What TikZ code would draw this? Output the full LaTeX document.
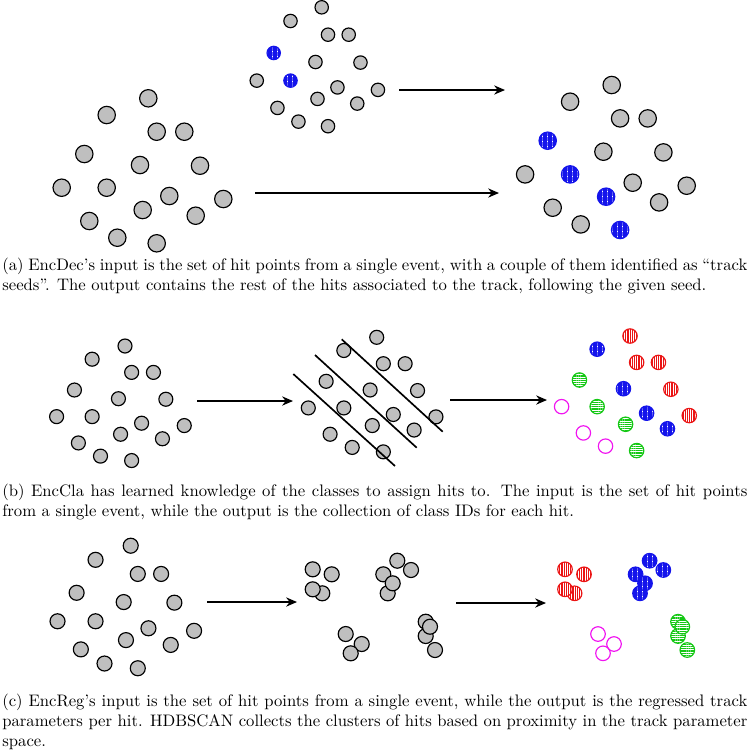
\documentclass[tikz,border=0pt]{standalone}
\usetikzlibrary{arrows.meta, patterns.meta}
\definecolor{trackblue}{RGB}{20,20,235}
\definecolor{classred}{RGB}{235,20,20}
\definecolor{classgreen}{RGB}{20,200,20}
\definecolor{classmagenta}{RGB}{240,20,240}
\tikzset{
  hit/.style={draw=black, fill=gray!50, line width=0.7pt},
  bluehit/.style={draw=trackblue, line width=0.7pt, preaction={fill=white}, pattern={Hatch[distance=1pt, line width=0.65pt]}, pattern color=trackblue},
  redhit/.style={draw=classred, line width=0.7pt, preaction={fill=white}, pattern={Lines[angle=90, distance=1.1pt, line width=0.55pt]}, pattern color=classred},
  greenhit/.style={draw=classgreen, line width=0.7pt, preaction={fill=white}, pattern={Lines[angle=0, distance=1.1pt, line width=0.55pt]}, pattern color=classgreen},
  openhit/.style={draw=classmagenta, line width=0.7pt},
  arrow/.style={line width=1pt, -{Stealth[length=6.5pt, width=5.5pt]}},
  cut/.style={line width=1pt},
  caption/.style={anchor=base west, inner sep=0pt, text width=447pt, align=justify},
  % class letter -> look, one set per drawing
  gray r/.style=hit, gray b/.style=hit, gray g/.style=hit, gray s/.style=hit, gray m/.style=hit,
  seed r/.style=hit, seed b/.style=hit, seed g/.style=hit, seed s/.style=bluehit, seed m/.style=hit,
  track r/.style=hit, track b/.style=hit, track g/.style=bluehit, track s/.style=bluehit, track m/.style=hit,
  class r/.style=redhit, class b/.style=bluehit, class g/.style=greenhit, class s/.style=greenhit, class m/.style=openhit,
}
% one event: offset / class (s = track seed)
\newcommand\hitpattern{0/0/r, -41.6/16.7/b, 8.4/33.4/r, 36/33.4/r, -64/55.7/s, -8.3/66.7/b, 51.7/67.4/r, -86.6/89.4/m, -41.6/89.4/s, 21/97.7/b, 75/100.7/r, -5.6/111.7/g, 47.4/117.4/b, -59/122.7/m, -31/139.4/m, 8.4/145/g}
% clustered hits in track parameter space
\newcommand\clusterlist{312.7/569.3/r, 331.7/574.3/r, 322.3/593.3/r, 312.7/589.3/r, 397.3/560.7/b, 411/570/b, 383.3/574.3/b, 387.7/593.3/b, 392.7/583.3/b, 345.7/634/m, 361.7/644/m, 350.7/653.3/m, 425.7/621.7/g, 425.7/636/g, 430/626.7/g, 435/650/g}
\newcommand\hitcloud[6]{%
  \foreach \px/\py/\cls in \hitpattern
    {\draw[#6 \cls] ({#1+#3*\px},{#2+#4*\py}) circle (#5);}}
\begin{document}
\begin{tikzpicture}[x=0.6pt, y=-0.6pt]
  \useasboundingbox (0,0) rectangle (750,749);

  % (a) EncDec
  \hitcloud{148.3}{98.3}{1}{1}{8.7}{gray}
  \hitcloud{321.7}{7.3}{0.75}{0.82}{6.7}{seed}
  \hitcloud{611.7}{85}{1}{1}{8.7}{track}
  \coordinate (seedsout) at (399,90);
  \coordinate (seedsin) at (505,90);
  \coordinate (eventout) at (255,193);
  \coordinate (eventin) at (499,193);
  \draw[arrow] (seedsout) -- (seedsin);
  \draw[arrow] (eventout) -- (eventin);
  \node[caption] (capa) at (2,270) {(a) EncDec's input is the set of hit points from a single event, with a couple of them identified as ``track seeds''. The output contains the rest of the hits associated to the track, following the given seed.};

  % (b) EncCla
  \hitcloud{125}{346}{0.79}{0.79}{7}{gray}
  \hitcloud{376.7}{337.3}{0.79}{0.79}{7}{gray}
  \hitcloud{630}{336}{0.79}{0.79}{7.2}{class}
  \foreach \ax/\ay/\bx/\by in {293.3/374/395/466, 315/355/416.7/447.7, 341.7/339.3/442.7/431.7}
    \draw[cut] (\ax,\ay) -- (\bx,\by);
  \coordinate (clain) at (197,401);
  \coordinate (clacut) at (293,401);
  \coordinate (clacutout) at (450,400);
  \coordinate (claout) at (547,400);
  \draw[arrow] (clain) -- (clacut);
  \draw[arrow] (clacutout) -- (claout);
  \node[caption] (capb) at (2,496) {(b) EncCla has learned knowledge of the classes to assign hits to. The input is the set of hit points from a single event, while the output is the collection of class IDs for each hit.};

  % (c) EncReg
  \hitcloud{130.7}{545.7}{0.845}{0.845}{7.5}{gray}
  \foreach \px/\py/\cls in \clusterlist
    {\draw[hit] (\px,\py) circle (7.5);}
  \foreach \px/\py/\cls in \clusterlist
    {\draw[class \cls] (\px+252.3,\py) circle (7.3);}
  \coordinate (regin) at (207,602);
  \coordinate (regpar) at (297,602);
  \coordinate (regparout) at (456,603);
  \coordinate (regout) at (546,603);
  \draw[arrow] (regin) -- (regpar);
  \draw[arrow] (regparout) -- (regout);
  \node[caption] (capc) at (2,706) {(c) EncReg's input is the set of hit points from a single event, while the output is the regressed track parameters per hit. HDBSCAN collects the clusters of hits based on proximity in the track parameter space.};
\end{tikzpicture}
\end{document}
